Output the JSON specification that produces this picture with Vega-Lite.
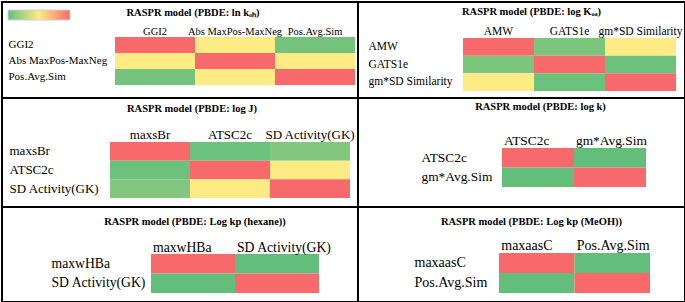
{
  "$schema": "https://vega.github.io/schema/vega-lite/v6.json",
  "padding": 1,
  "background": "white",
  "config": {
    "view": {"stroke": "black", "strokeWidth": 2},
    "font": "Liberation Serif",
    "axis": {"labelFont": "Liberation Serif", "labelColor": "black", "domain": false, "ticks": false, "tickSize": 0, "grid": false, "title": null, "labelOverlap": false, "labelLimit": 0, "labelAngle": 0},
    "title": {"font": "Liberation Serif", "fontWeight": "bold", "fontSize": 10.5, "color": "black"}
  },
  "datasets": {
    "p1": [
      {"row": "GGI2", "col": "GGI2", "v": 1},
      {"row": "GGI2", "col": "Abs MaxPos-MaxNeg", "v": 0.5},
      {"row": "GGI2", "col": "Pos.Avg.Sim", "v": 0.05},
      {"row": "Abs MaxPos-MaxNeg", "col": "GGI2", "v": 0.5},
      {"row": "Abs MaxPos-MaxNeg", "col": "Abs MaxPos-MaxNeg", "v": 1},
      {"row": "Abs MaxPos-MaxNeg", "col": "Pos.Avg.Sim", "v": 0.5},
      {"row": "Pos.Avg.Sim", "col": "GGI2", "v": 0.05},
      {"row": "Pos.Avg.Sim", "col": "Abs MaxPos-MaxNeg", "v": 0.5},
      {"row": "Pos.Avg.Sim", "col": "Pos.Avg.Sim", "v": 1}
    ],
    "p2": [
      {"row": "AMW", "col": "AMW", "v": 1},
      {"row": "AMW", "col": "GATS1e", "v": 0.08},
      {"row": "AMW", "col": "gm*SD Similarity", "v": 0.5},
      {"row": "GATS1e", "col": "AMW", "v": 0.08},
      {"row": "GATS1e", "col": "GATS1e", "v": 1},
      {"row": "GATS1e", "col": "gm*SD Similarity", "v": 0.03},
      {"row": "gm*SD Similarity", "col": "AMW", "v": 0.5},
      {"row": "gm*SD Similarity", "col": "GATS1e", "v": 0.03},
      {"row": "gm*SD Similarity", "col": "gm*SD Similarity", "v": 1}
    ],
    "p3": [
      {"row": "maxsBr", "col": "maxsBr", "v": 1},
      {"row": "maxsBr", "col": "ATSC2c", "v": 0.03},
      {"row": "maxsBr", "col": "SD Activity(GK)", "v": 0.1},
      {"row": "ATSC2c", "col": "maxsBr", "v": 0.03},
      {"row": "ATSC2c", "col": "ATSC2c", "v": 1},
      {"row": "ATSC2c", "col": "SD Activity(GK)", "v": 0.5},
      {"row": "SD Activity(GK)", "col": "maxsBr", "v": 0.1},
      {"row": "SD Activity(GK)", "col": "ATSC2c", "v": 0.5},
      {"row": "SD Activity(GK)", "col": "SD Activity(GK)", "v": 1}
    ],
    "p4": [
      {"row": "ATSC2c", "col": "ATSC2c", "v": 1},
      {"row": "ATSC2c", "col": "gm*Avg.Sim", "v": 0},
      {"row": "gm*Avg.Sim", "col": "ATSC2c", "v": 0},
      {"row": "gm*Avg.Sim", "col": "gm*Avg.Sim", "v": 1}
    ],
    "p5": [
      {"row": "maxwHBa", "col": "maxwHBa", "v": 1},
      {"row": "maxwHBa", "col": "SD Activity(GK)", "v": 0},
      {"row": "SD Activity(GK)", "col": "maxwHBa", "v": 0},
      {"row": "SD Activity(GK)", "col": "SD Activity(GK)", "v": 1}
    ],
    "p6": [
      {"row": "maxaasC", "col": "maxaasC", "v": 1},
      {"row": "maxaasC", "col": "Pos.Avg.Sim", "v": 0},
      {"row": "Pos.Avg.Sim", "col": "maxaasC", "v": 0},
      {"row": "Pos.Avg.Sim", "col": "Pos.Avg.Sim", "v": 1}
    ]
  },
  "spacing": 0,
  "bounds": "flush",
  "columns": 2,
  "concat": [
    {
      "data": {"name": "p1"},
      "width": 356,
      "height": 96,
      "title": {"text": "RASPR model (PBDE: ln kₒₕ)", "anchor": "middle", "frame": "group", "offset": -21, "dx": 13, "baseline": "middle"},
      "mark": "rect",
      "encoding": {
        "x": {"field": "col", "type": "nominal", "scale": {"domain": ["GGI2", "Abs MaxPos-MaxNeg", "Pos.Avg.Sim"], "range": [113, 353], "paddingInner": 0, "paddingOuter": 0}, "axis": {"orient": "top", "offset": -35, "labelFont": "Liberation Serif", "labelFontSize": 10.5, "labelPadding": 3, "labelBaseline": "alphabetic"}},
        "y": {"field": "row", "type": "nominal", "scale": {"domain": ["GGI2", "Abs MaxPos-MaxNeg", "Pos.Avg.Sim"], "range": [35, 83], "paddingInner": 0, "paddingOuter": 0}, "axis": {"orient": "left", "offset": -6, "labelAlign": "left", "labelPadding": 0, "labelFont": "Liberation Serif", "labelFontSize": 11}},
        "color": {"field": "v", "type": "quantitative", "scale": {"type": "linear", "domain": [0, 0.5, 1], "range": ["#63be7b", "#ffeb84", "#f8696b"], "interpolate": "rgb"}, "legend": {"orient": "none", "legendX": 6, "legendY": 8, "direction": "horizontal", "title": null, "gradientLength": 62, "gradientThickness": 10, "gradientStrokeColor": "#d0d0d0", "gradientStrokeWidth": 1, "labelExpr": "''", "labelFontSize": 1}}
      }
    },
    {
      "data": {"name": "p2"},
      "width": 327,
      "height": 96,
      "title": {"text": "RASPR model (PBDE: log Kₒₐ)", "anchor": "middle", "frame": "group", "offset": -20, "dx": 10, "baseline": "middle"},
      "mark": "rect",
      "encoding": {
        "x": {"field": "col", "type": "nominal", "scale": {"domain": ["AMW", "GATS1e", "gm*SD Similarity"], "range": [105, 318], "paddingInner": 0, "paddingOuter": 0}, "axis": {"orient": "top", "offset": -36, "labelFont": "Liberation Serif", "labelFontSize": 11.5, "labelPadding": 4, "labelBaseline": "alphabetic"}},
        "y": {"field": "row", "type": "nominal", "scale": {"domain": ["AMW", "GATS1e", "gm*SD Similarity"], "range": [36, 89], "paddingInner": 0, "paddingOuter": 0}, "axis": {"orient": "left", "offset": -10, "labelAlign": "left", "labelPadding": 0, "labelFont": "Liberation Serif", "labelFontSize": 11.5}},
        "color": {"field": "v", "type": "quantitative", "legend": null}
      }
    },
    {
      "data": {"name": "p3"},
      "width": 356,
      "height": 109,
      "title": {"text": "RASPR model (PBDE: log J)", "anchor": "middle", "frame": "group", "offset": -21, "dx": 12, "baseline": "middle"},
      "mark": "rect",
      "encoding": {
        "x": {"field": "col", "type": "nominal", "scale": {"domain": ["maxsBr", "ATSC2c", "SD Activity(GK)"], "range": [108, 348], "paddingInner": 0, "paddingOuter": 0}, "axis": {"orient": "top", "offset": -44, "labelFont": "Liberation Serif", "labelFontSize": 13, "labelPadding": 4, "labelBaseline": "alphabetic"}},
        "y": {"field": "row", "type": "nominal", "scale": {"domain": ["maxsBr", "ATSC2c", "SD Activity(GK)"], "range": [44, 100], "paddingInner": 0, "paddingOuter": 0}, "axis": {"orient": "left", "offset": -7, "labelAlign": "left", "labelPadding": 0, "labelFont": "Liberation Serif", "labelFontSize": 13}},
        "color": {"field": "v", "type": "quantitative", "legend": null}
      }
    },
    {
      "data": {"name": "p4"},
      "width": 327,
      "height": 109,
      "title": {"text": "RASPR model (PBDE: log k)", "anchor": "middle", "frame": "group", "offset": -19, "dx": 19, "baseline": "middle"},
      "mark": "rect",
      "encoding": {
        "x": {"field": "col", "type": "nominal", "scale": {"domain": ["ATSC2c", "gm*Avg.Sim"], "range": [144, 288], "paddingInner": 0, "paddingOuter": 0}, "axis": {"orient": "top", "offset": -50, "labelAlign": "left", "labelOffset": -34, "labelFont": "Liberation Serif", "labelFontSize": 13.4, "labelPadding": 4, "labelBaseline": "alphabetic"}},
        "y": {"field": "row", "type": "nominal", "scale": {"domain": ["ATSC2c", "gm*Avg.Sim"], "range": [50, 89], "paddingInner": 0, "paddingOuter": 0}, "axis": {"orient": "left", "offset": -63, "labelAlign": "left", "labelPadding": 0, "labelFont": "Liberation Serif", "labelFontSize": 13.4}},
        "color": {"field": "v", "type": "quantitative", "legend": null}
      }
    },
    {
      "data": {"name": "p5"},
      "width": 356,
      "height": 95,
      "title": {"text": "RASPR model (PBDE: Log kp (hexane))", "anchor": "middle", "frame": "group", "offset": -25, "dx": 15, "baseline": "middle"},
      "mark": "rect",
      "encoding": {
        "x": {"field": "col", "type": "nominal", "scale": {"domain": ["maxwHBa", "SD Activity(GK)"], "range": [149, 317], "paddingInner": 0, "paddingOuter": 0}, "axis": {"orient": "top", "offset": -47, "labelAlign": "left", "labelOffset": -40, "labelFont": "Liberation Serif", "labelFontSize": 13.7, "labelPadding": 3, "labelBaseline": "alphabetic"}},
        "y": {"field": "row", "type": "nominal", "scale": {"domain": ["maxwHBa", "SD Activity(GK)"], "range": [47, 86], "paddingInner": 0, "paddingOuter": 0}, "axis": {"orient": "left", "offset": -49, "labelAlign": "left", "labelPadding": 0, "labelFont": "Liberation Serif", "labelFontSize": 13.7}},
        "color": {"field": "v", "type": "quantitative", "legend": null}
      }
    },
    {
      "data": {"name": "p6"},
      "width": 327,
      "height": 95,
      "title": {"text": "RASPR model (PBDE: Log kp (MeOH))", "anchor": "middle", "frame": "group", "offset": -25, "dx": 10, "baseline": "middle"},
      "mark": "rect",
      "encoding": {
        "x": {"field": "col", "type": "nominal", "scale": {"domain": ["maxaasC", "Pos.Avg.Sim"], "range": [141, 292], "paddingInner": 0, "paddingOuter": 0}, "axis": {"orient": "top", "offset": -46, "labelAlign": "left", "labelOffset": -35.5, "labelFont": "Liberation Serif", "labelFontSize": 14, "labelPadding": 4, "labelBaseline": "alphabetic"}},
        "y": {"field": "row", "type": "nominal", "scale": {"domain": ["maxaasC", "Pos.Avg.Sim"], "range": [46, 86], "paddingInner": 0, "paddingOuter": 0}, "axis": {"orient": "left", "offset": -56, "labelAlign": "left", "labelPadding": 0, "labelFont": "Liberation Serif", "labelFontSize": 14}},
        "color": {"field": "v", "type": "quantitative", "legend": null}
      }
    }
  ]
}
